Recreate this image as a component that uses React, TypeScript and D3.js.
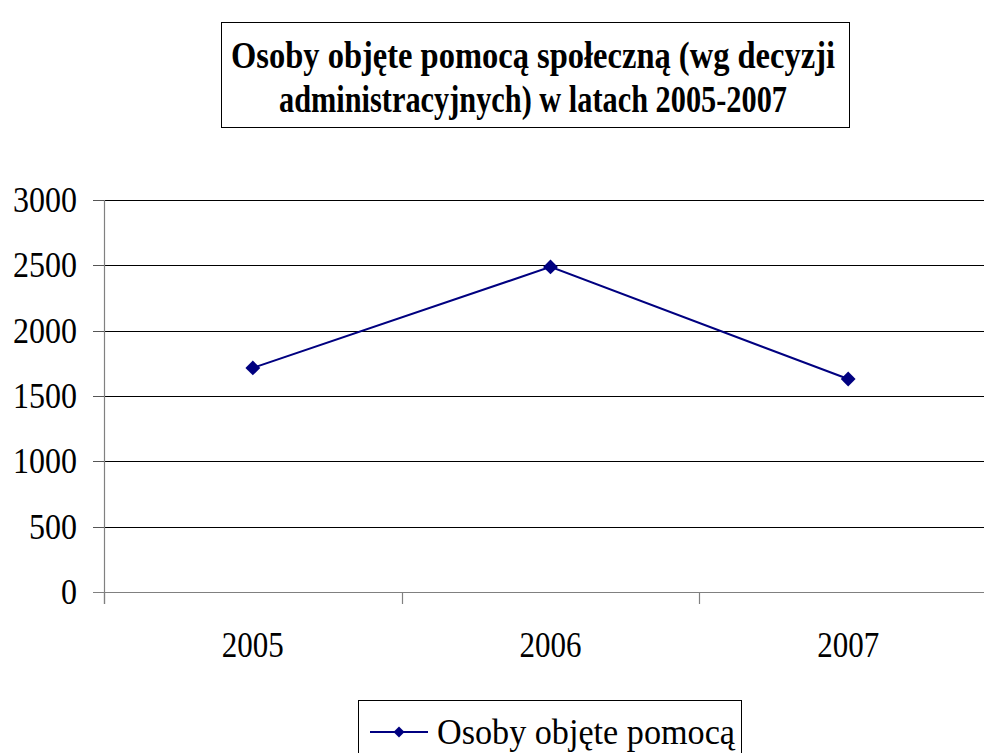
import React from "react";
import * as d3 from "d3";

const years = ["2005", "2006", "2007"];
const values = [1715, 2488, 1630];
const yTicks = [0, 500, 1000, 1500, 2000, 2500, 3000];
const titleLines = ["Osoby objęte pomocą społeczną (wg decyzji", "administracyjnych) w latach 2005-2007"];
const seriesName = "Osoby objęte pomocą";

const W = 984;
const H = 753;
const left = 104;
const right = 997;
const top = 200;
const bottom = 592;
const navy = "#000080";
const FONT = "Liberation Serif";

export default function App() {
  const x = d3.scaleBand<string>().domain(years).range([left, right]);
  const y = d3.scaleLinear().domain([0, 3000]).range([bottom, top]);
  const cx = (d: string) => (x(d) as number) + x.bandwidth() / 2;
  const line = d3
    .line<number>()
    .x((_, i) => cx(years[i]))
    .y((v) => y(v));
  const diamond = d3.symbol().type(d3.symbolSquare).size(110)() as string;
  const xTickPos = [...years.map((d) => x(d) as number), right];

  return (
    <svg width={W} height={H} style={{ position: "absolute", left: 0, top: 0, background: "#fff" }}>
      <rect x={0} y={0} width={W} height={H} fill="#fff" />
      {/* title */}
      <rect x={221.5} y={22.5} width={628} height={105} fill="#fff" stroke="#000" strokeWidth={1} />
      {titleLines.map((t, i) => (
        <text
          key={i}
          x={533}
          y={68 + i * 44}
          textAnchor="middle"
          fontFamily={FONT}
          fontWeight="bold"
          fontSize={38}
          textLength={i === 0 ? 604 : 508}
          lengthAdjust="spacingAndGlyphs"
          fill="#000"
        >
          {t}
        </text>
      ))}
      {/* gridlines */}
      {yTicks.slice(1).map((t) => (
        <line key={t} x1={left} x2={W} y1={Math.round(y(t)) + 0.5} y2={Math.round(y(t)) + 0.5} stroke="#000" strokeWidth={1} />
      ))}
      {/* y axis */}
      <line x1={left + 0.5} x2={left + 0.5} y1={top} y2={bottom + 12} stroke="#808080" strokeWidth={1.2} />
      {yTicks.map((t) => (
        <g key={t}>
          <line x1={93} x2={left} y1={Math.round(y(t)) + 0.5} y2={Math.round(y(t)) + 0.5} stroke="#555" strokeWidth={1} />
          <text
            x={77}
            y={y(t) + 12}
            textAnchor="end"
            fontFamily={FONT}
            fontSize={36}
            textLength={String(t).length * 16}
            lengthAdjust="spacingAndGlyphs"
            fill="#000"
          >
            {t}
          </text>
        </g>
      ))}
      {/* x axis */}
      <line x1={93} x2={W} y1={bottom + 0.5} y2={bottom + 0.5} stroke="#808080" strokeWidth={1.2} />
      {xTickPos.map((p, i) => (
        <line key={i} x1={Math.round(p) + 0.5} x2={Math.round(p) + 0.5} y1={bottom} y2={bottom + 12} stroke="#808080" strokeWidth={1.2} />
      ))}
      {years.map((d) => (
        <text
          key={d}
          x={cx(d)}
          y={657}
          textAnchor="middle"
          fontFamily={FONT}
          fontSize={36}
          textLength={62}
          lengthAdjust="spacingAndGlyphs"
          fill="#000"
        >
          {d}
        </text>
      ))}
      {/* series */}
      <path d={line(values) as string} fill="none" stroke={navy} strokeWidth={2} />
      {values.map((v, i) => (
        <path key={i} d={diamond} transform={`translate(${cx(years[i])},${y(v)}) rotate(45)`} fill={navy} />
      ))}
      {/* legend */}
      <rect x={358.5} y={700.5} width={383} height={60} fill="#fff" stroke="#000" strokeWidth={1} />
      <line x1={370} x2={428} y1={732} y2={732} stroke={navy} strokeWidth={2} />
      <path d={d3.symbol().type(d3.symbolSquare).size(60)() as string} transform="translate(399,732) rotate(45)" fill={navy} />
      <text x={437} y={744} fontFamily={FONT} fontSize={36} textLength={298} lengthAdjust="spacingAndGlyphs" fill="#000">
        {seriesName}
      </text>
    </svg>
  );
}
